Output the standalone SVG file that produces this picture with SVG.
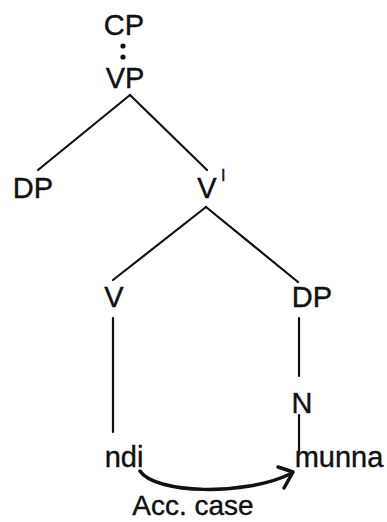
<svg xmlns="http://www.w3.org/2000/svg" width="387" height="522" viewBox="0 0 387 522">
<style>
text{font-family:"Liberation Sans",Arial,sans-serif;font-size:29px;fill:#111;stroke:#111;stroke-width:0.4;text-anchor:middle}
.sup{font-size:16px;text-anchor:start}
.lab{font-size:28px}
.e{stroke:#111;stroke-width:2.2;fill:none;stroke-linecap:round}
.arc{stroke:#111;stroke-width:3.5;fill:none;stroke-linecap:round;stroke-linejoin:round}
</style>
<rect width="387" height="522" fill="#fff"/>
<g id="connectors">
<circle cx="123" cy="46" r="2.6" fill="#111"/>
<circle cx="123" cy="57" r="2.6" fill="#111"/>
<line class="e" x1="130" y1="95" x2="38" y2="170"/>
<line class="e" x1="130" y1="95" x2="207" y2="170"/>
<line class="e" x1="206" y1="207" x2="113" y2="280"/>
<line class="e" x1="206" y1="207" x2="298" y2="282"/>
<line class="e" x1="113" y1="318" x2="113" y2="432"/>
<line class="e" x1="299" y1="318" x2="299" y2="376"/>
<line class="e" x1="299" y1="415" x2="299" y2="452"/>
<path class="arc" d="M140,471 C155,494 245,496 290,474"/>
<path class="arc" d="M278,467 L293,472 L284,488"/>
</g>
<g id="CP"><text x="124" y="35">CP</text></g>
<g id="VP"><text x="125" y="88">VP</text></g>
<g id="DP1"><text x="33" y="198">DP</text></g>
<g id="Vbar"><text x="207" y="198">V</text><text class="sup" x="221" y="181">I</text></g>
<g id="V"><text x="114" y="307">V</text></g>
<g id="DP2"><text x="312" y="307">DP</text></g>
<g id="N"><text x="302" y="413">N</text></g>
<g id="ndi"><text x="124" y="467">ndi</text></g>
<g id="munna"><text x="339" y="467">munna</text></g>
<g id="label"><text class="lab" x="193" y="515">Acc. case</text></g>
</svg>
